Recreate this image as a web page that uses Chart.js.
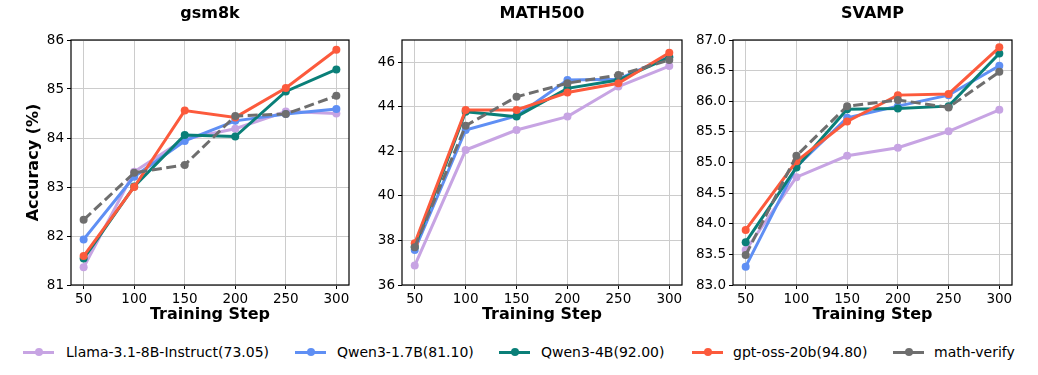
<!DOCTYPE html>
<html>
<head>
<meta charset="utf-8">
<script src="https://cdn.jsdelivr.net/npm/chart.js@4.4.0/dist/chart.umd.min.js"></script>
<style>
  body { margin: 0; background: #fff; width: 1038px; height: 375px; position: relative; overflow: hidden; font-family: "DejaVu Sans", sans-serif; }
  canvas { position: absolute; top: 0; }
  .leg-line { position: absolute; height: 3px; top: 351px; }
  .leg-dot { position: absolute; width: 8px; height: 8px; border-radius: 50%; top: 348px; }
  .leg-text { position: absolute; top: 343px; font-size: 14px; line-height: 18px; color: #000; white-space: nowrap; }
</style>
</head>
<body>
<canvas id="gsm" width="360" height="330" style="left:0px"></canvas>
<canvas id="math" width="322" height="330" style="left:370px"></canvas>
<canvas id="svamp" width="336" height="330" style="left:692px"></canvas>
<div id="legend"></div>
<script>
const steps = [50, 100, 150, 200, 250, 300];
const seriesNames = ['Llama-3.1-8B-Instruct(73.05)', 'Qwen3-1.7B(81.10)', 'Qwen3-4B(92.00)', 'gpt-oss-20b(94.80)', 'math-verify'];
const seriesColors = ['#c7a4e3', '#5f8ff4', '#0a7f78', '#fc5a3c', '#6e6e6e'];

// gsm8k
const gsmLlama  = [81.36, 83.31, 83.98, 84.19, 84.54, 84.50];
const gsmQwen17 = [81.93, 83.21, 83.94, 84.35, 84.49, 84.59];
const gsmQwen4  = [81.54, 83.01, 84.06, 84.03, 84.95, 85.40];
const gsmGpt    = [81.59, 83.00, 84.56, 84.42, 85.02, 85.80];
const gsmVerify = [82.33, 83.29, 83.45, 84.45, 84.49, 84.86];
const gsmTicks  = [81, 82, 83, 84, 85, 86];

// MATH500
const mathLlama  = [36.87, 42.06, 42.96, 43.56, 44.91, 45.83];
const mathQwen17 = [37.57, 42.96, 43.59, 45.20, 45.24, 46.25];
const mathQwen4  = [37.72, 43.78, 43.56, 44.83, 45.20, 46.22];
const mathGpt    = [37.87, 43.86, 43.86, 44.64, 45.06, 46.43];
const mathVerify = [37.70, 43.15, 44.45, 45.06, 45.43, 46.10];
const mathTicks  = [36, 38, 40, 42, 44, 46];

// SVAMP
const svampLlama  = [83.57, 84.76, 85.11, 85.24, 85.51, 85.86];
const svampQwen17 = [83.30, 84.93, 85.73, 85.92, 86.10, 86.58];
const svampQwen4  = [83.70, 84.92, 85.87, 85.88, 85.92, 86.78];
const svampGpt    = [83.90, 85.02, 85.67, 86.10, 86.12, 86.88];
const svampVerify = [83.49, 85.11, 85.92, 86.02, 85.90, 86.48];
const svampTicks  = [83.0, 83.5, 84.0, 84.5, 85.0, 85.5, 86.0, 86.5, 87.0];

Chart.defaults.font.family = '"DejaVu Sans", sans-serif';
Chart.defaults.color = '#000';

// matplotlib-like box around the axes
const framePlugin = {
  id: 'frame',
  afterDatasetsDraw(chart) {
    const a = chart.chartArea, ctx = chart.ctx;
    ctx.save();
    ctx.strokeStyle = '#000';
    ctx.lineWidth = 1.2;
    ctx.strokeRect(a.left, a.top, a.right - a.left, a.bottom - a.top);
    ctx.restore();
  }
};

function makeChart(id, title, series, ticks, yMax, decimals, yAxisWidth, rightPad, yTitle) {
  const datasets = series.map((vals, i) => ({
    label: seriesNames[i],
    data: steps.map((s, j) => ({ x: s, y: vals[j] })),
    borderColor: seriesColors[i],
    backgroundColor: seriesColors[i],
    pointBackgroundColor: seriesColors[i],
    borderWidth: 3,
    pointRadius: 4,
    pointHoverRadius: 4,
    pointBorderWidth: 0,
    borderDash: i === 4 ? [10, 4.5] : [],
    order: 5 - i
  }));
  return new Chart(document.getElementById(id), {
    type: 'line',
    data: { datasets },
    plugins: [framePlugin],
    options: {
      responsive: false,
      animation: false,
      layout: { padding: { left: 0, right: rightPad, top: 0, bottom: 0 } },
      scales: {
        x: {
          type: 'linear',
          min: 37.5,
          max: 312.5,
          afterBuildTicks: s => { s.ticks = steps.map(v => ({ value: v })); },
          afterFit: s => { s.height = 45; },
          grid: { color: '#cccccc', lineWidth: 1, tickColor: '#000', tickLength: 4 },
          border: { display: false },
          ticks: { font: { size: 13.5 }, padding: 2, maxRotation: 0 },
          title: { display: true, text: 'Training Step', font: { size: 16, weight: 'bold' }, padding: { top: 0, bottom: 6 } }
        },
        y: {
          min: ticks[0],
          max: yMax,
          afterBuildTicks: s => { s.ticks = ticks.map(v => ({ value: v })); },
          afterFit: s => { s.width = yAxisWidth; },
          grid: { color: '#cccccc', lineWidth: 1, tickColor: '#000', tickLength: 4 },
          border: { display: false },
          ticks: { font: { size: 13.5 }, padding: 3, callback: v => Number(v).toFixed(decimals) },
          title: { display: !!yTitle, text: yTitle || '', font: { size: 16, weight: 'bold' }, padding: { top: 24, bottom: 0 } }
        }
      },
      plugins: {
        legend: { display: false },
        tooltip: { enabled: false },
        title: {
          display: true,
          text: title,
          fullSize: false,
          font: { size: 16, weight: 'bold' },
          padding: { top: 4.4, bottom: 16.4 }
        }
      }
    }
  });
}

makeChart('gsm', 'gsm8k', [gsmLlama, gsmQwen17, gsmQwen4, gsmGpt, gsmVerify], gsmTicks, 86, 0, 71, 11, 'Accuracy (%)');
makeChart('math', 'MATH500', [mathLlama, mathQwen17, mathQwen4, mathGpt, mathVerify], mathTicks, 47, 0, 32, 10, null);
makeChart('svamp', 'SVAMP', [svampLlama, svampQwen17, svampQwen4, svampGpt, svampVerify], svampTicks, 87, 1, 41, 16, null);

// shared legend below the panels
const legLineX = [23, 295, 499, 692, 893];
const legTextX = [66, 337, 541, 733, 934];
const legend = document.getElementById('legend');
seriesNames.forEach((name, i) => {
  const line = document.createElement('div');
  line.className = 'leg-line';
  line.style.left = legLineX[i] + 'px';
  line.style.width = '31px';
  line.style.background = seriesColors[i];
  const dot = document.createElement('div');
  dot.className = 'leg-dot';
  dot.style.left = (legLineX[i] + 11.5) + 'px';
  dot.style.background = seriesColors[i];
  const text = document.createElement('div');
  text.className = 'leg-text';
  text.style.left = legTextX[i] + 'px';
  text.textContent = name;
  legend.append(line, dot, text);
});
</script>
</body>
</html>
